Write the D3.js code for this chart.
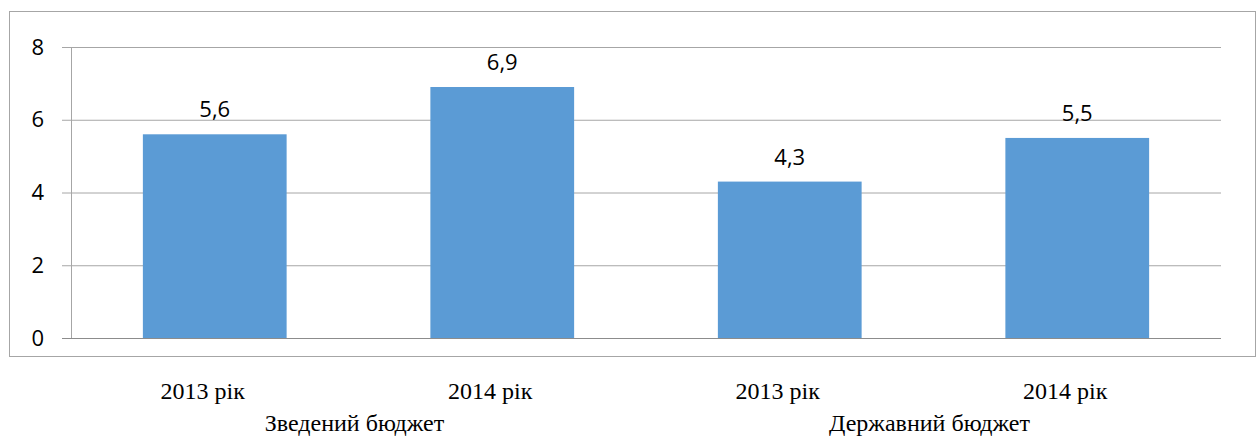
<html>
<script src="https://d3js.org/d3.v7.min.js"></script>
<style>
    body { margin: 0; background: #fff; }
    .tick text { font-family: "Open Sans", sans-serif; }
</style>
<body>
    <svg id="chart"></svg>
    <script>
        // data
        var years = ["2013 рік", "2014 рік", "2013 рік", "2014 рік"];
        var groups = ["Зведений бюджет", "Державний бюджет"];
        var values = [5.6, 6.9, 4.3, 5.5];
        var yTicks = [0, 2, 4, 6, 8];

        var width = 1257, height = 447;
        var plot = { left: 71, right: 1221, top: 47, bottom: 338 };

        var svg = d3.select("svg")
            .attr("width", width)
            .attr("height", height);

        // outer frame
        svg.append("rect")
            .attr("x", 9.5).attr("y", 11.5)
            .attr("width", 1246).attr("height", 345)
            .attr("fill", "none")
            .attr("stroke", "#a6a6a6")
            .attr("stroke-width", 1);

        var idx = d3.range(values.length);

        var x = d3.scaleBand()
            .domain(idx)
            .range([plot.left, plot.right])
            .paddingInner(0.5)
            .paddingOuter(0.25);

        var y = d3.scaleLinear()
            .domain([0, 8])
            .range([plot.bottom, plot.top]);

        // gridlines + y labels
        var yAxis = svg.append("g")
            .attr("transform", "translate(" + plot.left + ",0)")
            .call(d3.axisLeft(y)
                .tickValues(yTicks)
                .tickSize(-(plot.right - plot.left))
                .tickPadding(27)
                .tickFormat(d3.format("d")));
        yAxis.select(".domain").remove();
        yAxis.selectAll(".tick line")
            .attr("stroke", "#a6a6a6")
            .attr("x1", -9);
        yAxis.selectAll(".tick text")
            .attr("font-size", 22)
            .attr("fill", "#000");

        // vertical axis line
        svg.append("line")
            .attr("x1", plot.left + 0.5).attr("x2", plot.left + 0.5)
            .attr("y1", y(8)).attr("y2", y(0))
            .attr("stroke", "#a6a6a6");

        // bars
        svg.append("g")
            .selectAll("rect")
            .data(idx)
            .enter()
            .append("rect")
            .attr("x", function (i) { return x(i); })
            .attr("y", function (i) { return y(values[i]); })
            .attr("width", x.bandwidth())
            .attr("height", function (i) { return y(0) - y(values[i]); })
            .attr("fill", "#5b9bd5");

        // baseline
        svg.append("line")
            .attr("x1", plot.left - 9).attr("x2", plot.right)
            .attr("y1", y(0) + 0.5).attr("y2", y(0) + 0.5)
            .attr("stroke", "#8c8c8c");

        // value labels
        svg.append("g")
            .selectAll("text")
            .data(idx)
            .enter()
            .append("text")
            .attr("x", function (i) { return x(i) + x.bandwidth() / 2; })
            .attr("y", function (i) { return y(values[i]) - 17; })
            .attr("text-anchor", "middle")
            .attr("font-family", "Open Sans, sans-serif")
            .attr("font-size", 22)
            .text(function (i) { return d3.format(".1f")(values[i]).replace(".", ","); });

        // category labels
        svg.append("g")
            .selectAll("text")
            .data(idx)
            .enter()
            .append("text")
            .attr("x", function (i) { return x(i) + x.bandwidth() / 2 - 12; })
            .attr("y", 399)
            .attr("text-anchor", "middle")
            .attr("font-family", "Liberation Serif, serif")
            .attr("font-size", 24)
            .text(function (i) { return years[i]; });

        // group labels
        svg.append("g")
            .selectAll("text")
            .data(groups)
            .enter()
            .append("text")
            .attr("x", function (d, g) { return (x(g * 2) + x(g * 2 + 1) + x.bandwidth()) / 2 - 4; })
            .attr("y", 431)
            .attr("text-anchor", "middle")
            .attr("font-family", "Liberation Serif, serif")
            .attr("font-size", 24)
            .text(function (d) { return d; });
    </script>
</body>
</html>
